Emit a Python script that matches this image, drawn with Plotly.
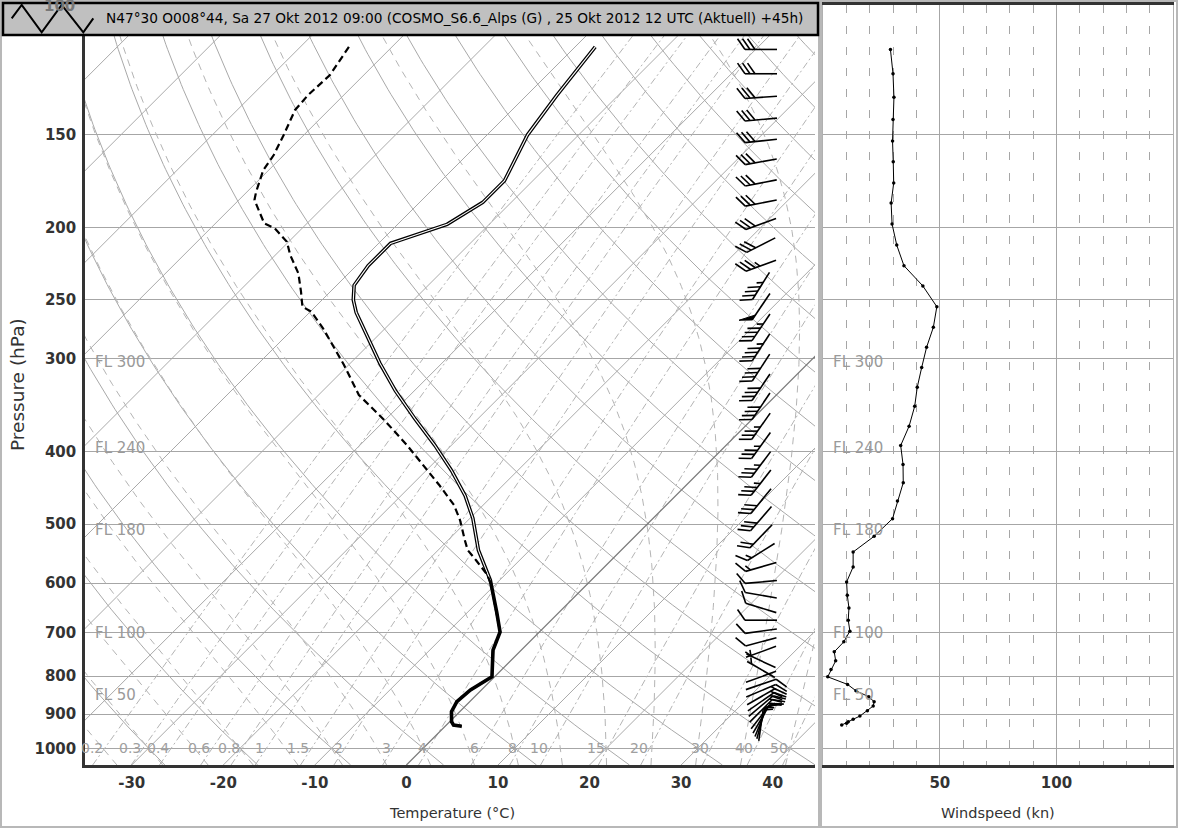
import numpy as np
import plotly.graph_objects as go

# ---------------- data ----------------
TEMP_P = [114.4, 133, 150, 173, 185, 198, 210, 225, 239, 250, 260, 283, 304, 331, 361, 392, 424, 458,
          491, 542, 595, 657, 698, 738, 801.5, 835, 866, 893, 921, 931, 934]
TEMP_C = [-57.8, -56.7, -55.6, -53.1, -53.1, -54.6, -58.7, -58.7, -58.1, -56.6, -54.9, -50.5, -46.8,
          -42.1, -36.9, -31.8, -27.2, -23.0, -19.7, -15.6, -11.0, -6.8, -4.3, -3.1, -0.3, -1.2, -1.4,
          -0.9, 0.2, 0.8, 1.8]

DEW_P = [114.4, 124.8, 132.7, 139.0, 150.2, 159.8, 167.4, 179.1, 183.6, 197.3, 200.4, 206.5, 208.9,
         217.6, 230.3, 243.8, 255.4, 259.3, 273.0, 283.0, 305.8, 335.5, 362.5, 391.6, 416.6, 443.1,
         471.4, 493.8, 525.2, 541.7, 558.8, 585.3, 603.6, 657, 698, 738, 801.5, 835, 866, 893, 921,
         931, 934]
DEW_C = [-84.7, -83.7, -83.9, -83.7, -82.2, -81.1, -80.6, -79.0, -78.3, -74.7, -73.0, -71.0, -70.2,
         -68.4, -65.5, -63.2, -61.4, -59.9, -56.8, -54.8, -50.5, -45.6, -40.1, -34.9, -30.9, -27.0,
         -23.2, -20.9, -18.2, -16.8, -14.8, -11.9, -10.4, -6.8, -4.3, -3.1, -0.3, -1.2, -1.4, -0.9,
         0.2, 0.8, 1.8]

WIND_P = [115.3, 124.3, 133.7, 143.2, 153.0, 163.2, 174.2, 185.4, 197.8, 211.1, 225.0, 239.5, 255.4,
          272.2, 289.5, 308.2, 327.6, 347.4, 369.5, 392.2, 415.8, 440.0, 465.7, 491.7, 519.3, 545.1,
          570.9, 598.0, 623.1, 648.0, 673.0, 696.2, 719.6, 742.2, 763.1, 783.7, 801.8, 820.8, 837.1,
          852.7, 865.9, 877.5, 890.5, 905.1, 914.4, 921.2, 925.7, 930.6]
WIND_KN = [28.8, 29.9, 30.3, 29.9, 29.7, 30.0, 30.2, 29.1, 29.5, 31.5, 34.6, 42.7, 48.7, 47.2, 44.3,
           42.2, 40.3, 39.2, 36.8, 33.2, 34.2, 34.3, 31.8, 29.7, 21.8, 12.8, 12.8, 10.0, 10.3, 11.0,
           10.7, 11.4, 8.8, 4.7, 5.3, 3.3, 1.9, 10.4, 14.0, 19.5, 21.8, 21.4, 18.9, 15.7, 12.8, 10.7,
           10.0, 7.9]
WIND_DIR = [270, 270, 266, 265, 264, 260, 259, 259, 250, 243, 250, 212, 214, 214, 213, 213, 214, 214,
            215, 216, 217, 218, 219, 221, 224, 238, 254, 265, 280, 287, 270, 262, 255, 250, 295, 300,
            70, 71, 67, 60, 55, 50, 45, 38, 30, 22, 15, 8]

P_TICKS = [100, 150, 200, 250, 300, 400, 500, 600, 700, 800, 900, 1000]
T_TICKS = [-30, -20, -10, 0, 10, 20, 30, 40]
WS_TICKS = [50, 100]
MIX_RATIOS = [0.2, 0.3, 0.4, 0.6, 0.8, 1, 1.5, 2, 3, 4, 6, 8, 10, 15, 20, 30, 40, 50]
FL_LABELS = ["FL 300", "FL 240", "FL 180", "FL 100", "FL 50"]
FL_P = [303, 395, 509, 700, 848]
TITLE = "N47°30 O008°44, Sa 27 Okt 2012 09:00 (COSMO_S6.6_Alps (G) , 25 Okt 2012 12 UTC (Aktuell) +45h)"

# ---------------- geometry ----------------
W, H = 1178, 829
ML, MR, MT, MB = 85, 5, 5, 64
PW, PH = W - ML - MR, H - MT - MB          # 1088 x 760
LEFT_W = 730
RIGHT_X0 = 738.3
P_BOT, P_TOP = 1053.0, 100.5
X_MIN, X_MAX = -35.1, 44.62
SX = LEFT_W / (X_MAX - X_MIN)               # px per degC
SY = PH / np.log(P_BOT / P_TOP)             # px per ln(p)
K_SKEW = SY / SX                            # 45 degree isotherms
CORE_P_MAX = 600                            # double-line look above this level


def skew(T, p):
    return np.asarray(T, float) + K_SKEW * np.log(P_BOT / np.asarray(p, float))


def paper(px, py):
    return (px - ML) / PW, (H - MB - py) / PH


GRAY = "#a9a9a9"
fig = go.Figure()

# ---------------- background lines ----------------
p_line = np.geomspace(P_BOT, 90, 160)


def add_family(curves, color, width, dash="solid"):
    xs, ys = [], []
    for T, p in curves:
        xs += list(skew(T, p)) + [None]
        ys += list(p) + [None]
    fig.add_trace(go.Scatter(x=xs, y=ys, mode="lines", hoverinfo="skip", showlegend=False,
                             line=dict(color=color, width=width, dash=dash)))


# isotherms
iso = [(np.full(2, t), np.array([P_BOT, 90])) for t in range(-160, 60, 10) if t != 0]
add_family(iso, GRAY, 1)
# dry adiabats
dry = []
for th in range(-40, 230, 10):
    dry.append(((th + 273.15) * (p_line / 1000.0) ** 0.2857 - 273.15, p_line))
add_family(dry, GRAY, 1)


# moist adiabats
def moist(T0C, ps):
    Rd, cp, Lv, eps = 287.04, 1005.7, 2.501e6, 0.622

    def f(T, p):
        es = 6.112 * np.exp(17.67 * (T - 273.15) / (T - 29.65))
        rs = eps * es / (p - es)
        return (Rd * T + Lv * rs) / (p * (cp + Lv * Lv * rs * eps / (Rd * T * T)))

    T = T0C + 273.15
    out = [T]
    for i in range(1, len(ps)):
        p0, p1 = ps[i - 1], ps[i]
        h = p1 - p0
        k1 = f(T, p0)
        k2 = f(T + h / 2 * k1, p0 + h / 2)
        k3 = f(T + h / 2 * k2, p0 + h / 2)
        k4 = f(T + h * k3, p1)
        T += h / 6 * (k1 + 2 * k2 + 2 * k3 + k4)
        out.append(T)
    return np.array(out) - 273.15


p_up = np.geomspace(1000, 90, 200)
p_dn = np.linspace(1000, P_BOT, 6)
wet = []
for t0 in range(-40, 50, 5):
    Tu = moist(t0, p_up)
    Td_ = moist(t0, p_dn)
    wet.append((np.concatenate([Td_[::-1], Tu[1:]]), np.concatenate([p_dn[::-1], p_up[1:]])))
add_family(wet, "#b4b4b4", 1, "7px,6px")


# mixing ratio lines
def td_from_w(w, p):
    wk = w / 1000.0
    e = wk * p / (0.622 + wk)
    a = np.log(e / 6.112)
    return 243.5 * a / (17.67 - a)


mix = [(td_from_w(w, p_line), p_line) for w in MIX_RATIOS]
add_family(mix, "#b4b4b4", 1, "7px,3px,2px,3px")

# 0 degC isotherm (darker)
fig.add_trace(go.Scatter(x=skew([0, 0], [P_BOT, 90]), y=[P_BOT, 90], mode="lines", hoverinfo="skip",
                         showlegend=False, line=dict(color="#7a7a7a", width=1.3)))

# ---------------- profiles ----------------
tp = np.array(TEMP_P)
tc = np.array(TEMP_C)
fig.add_trace(go.Scatter(x=skew(tc, tp), y=tp, mode="lines", showlegend=False,
                         line=dict(color="black", width=3.6)))
core = tp <= CORE_P_MAX
fig.add_trace(go.Scatter(x=skew(tc[core], tp[core]), y=tp[core], mode="lines", showlegend=False,
                         line=dict(color="white", width=1.1)))
fig.add_trace(go.Scatter(x=skew(DEW_C, DEW_P), y=DEW_P, mode="lines", showlegend=False,
                         line=dict(color="black", width=2.2, dash="7px,4px")))

# ---------------- wind barbs ----------------
BARB_CX = X_MIN + (761 - ML) / SX


def barb(spd, d):
    L, flen, fsp, ang = 32.0, 13.0, 5.0, np.radians(55)
    r = np.radians(d)
    u = np.array([np.sin(r), -np.cos(r)])
    head, tail = u * L / 2, -u * L / 2
    fv = np.array([np.cos(ang) * u[0] - np.sin(ang) * u[1], np.sin(ang) * u[0] + np.cos(ang) * u[1]])
    s = int(5 * round(spd / 5.0))
    n50, rem = divmod(s, 50)
    n10, rem = divmod(rem, 10)
    n5 = rem // 5
    lines, tris = [[tail, head]], []
    pos = 0.0
    for _ in range(n50):
        a = head - u * pos
        b = head - u * (pos + 6)
        tris.append([a, a + fv * flen, b, a])
        pos += 8
    for _ in range(n10):
        a = head - u * pos
        lines.append([a, a + fv * flen])
        pos += fsp
    if n5:
        if n50 == 0 and n10 == 0:
            pos = fsp
        a = head - u * pos
        lines.append([a, a + fv * flen * 0.5])
    return lines, tris


bx, by, tx, ty = [], [], [], []
for p, s, d in zip(WIND_P, WIND_KN, WIND_DIR):
    lines, tris = barb(s, d)
    for seg in lines:
        for pt in seg:
            bx.append(BARB_CX + pt[0] / SX)
            by.append(p * np.exp(pt[1] / SY))
        bx.append(None)
        by.append(None)
    for tri in tris:
        for pt in tri:
            tx.append(BARB_CX + pt[0] / SX)
            ty.append(p * np.exp(pt[1] / SY))
        tx.append(None)
        ty.append(None)
fig.add_trace(go.Scatter(x=bx, y=by, mode="lines", showlegend=False, hoverinfo="skip",
                         line=dict(color="black", width=1.6)))
if tx:
    fig.add_trace(go.Scatter(x=tx, y=ty, mode="lines", fill="toself", fillcolor="black", showlegend=False,
                             hoverinfo="skip", line=dict(color="black", width=1)))

# ---------------- wind speed panel ----------------
fig.add_trace(go.Scatter(x=WIND_KN, y=WIND_P, xaxis="x2", yaxis="y2", mode="lines+markers",
                         showlegend=False, line=dict(color="black", width=1),
                         marker=dict(color="black", size=3.5)))

# ---------------- layout ----------------
AX_FONT = dict(family="DejaVu Sans", size=15, color="#333333", weight="bold")
yrange = [np.log10(P_BOT), np.log10(P_TOP)]
fig.update_layout(
    width=W, height=H, margin=dict(l=ML, r=MR, t=MT, b=MB, autoexpand=False),
    paper_bgcolor="white", plot_bgcolor="white", showlegend=False,
    xaxis=dict(domain=[0, LEFT_W / PW], range=[X_MIN, X_MAX], tickvals=T_TICKS,
               ticktext=[str(t) for t in T_TICKS], showgrid=False, zeroline=False, showline=True,
               linecolor="#333333", linewidth=2.5, ticks="", ticklabelstandoff=2, tickfont=AX_FONT,
               anchor="y", mirror=True, automargin=False),
    yaxis=dict(type="log", range=yrange, tickvals=P_TICKS[1:], ticktext=[str(p) for p in P_TICKS[1:]],
               showgrid=True, gridcolor="#a6a6a6", gridwidth=1.3, zeroline=False, showline=True,
               linecolor="#333333", linewidth=2.5, ticks="", ticklabelstandoff=3, tickfont=AX_FONT,
               anchor="x", automargin=False),
    xaxis2=dict(domain=[RIGHT_X0 / PW, 1], range=[0, 150], tickvals=WS_TICKS,
                ticktext=[str(t) for t in WS_TICKS], showgrid=True, gridcolor="#a6a6a6", gridwidth=1.3,
                minor=dict(tickmode="linear", tick0=0, dtick=10, showgrid=True, gridcolor="#a6a6a6",
                           griddash="8px,13px", gridwidth=1),
                zeroline=False, showline=True, linecolor="#333333", linewidth=2.5, mirror=True,
                ticks="", ticklabelstandoff=2, tickfont=AX_FONT, anchor="y2", automargin=False),
    yaxis2=dict(type="log", range=yrange, tickvals=P_TICKS[1:], showticklabels=False, showgrid=True,
                gridcolor="#a6a6a6", gridwidth=1.3, zeroline=False, showline=True, mirror=True,
                linecolor="#b0b0b0", linewidth=1, ticks="", anchor="x2", automargin=False),
)

shapes = []
# outer panel frames
for (x0, x1) in [(1, 819), (821, 1177)]:
    a0, b0 = paper(x0, 827)
    a1, b1 = paper(x1, 1)
    shapes.append(dict(type="rect", xref="paper", yref="paper", x0=a0, x1=a1, y0=b0, y1=b1,
                       line=dict(color="#b8b8b8", width=2), fillcolor="rgba(0,0,0,0)", layer="below"))
# header box
a0, b0 = paper(3, 35)
a1, b1 = paper(818, 3)
shapes.append(dict(type="rect", xref="paper", yref="paper", x0=a0, x1=a1, y0=b0, y1=b1,
                   line=dict(color="black", width=2.5), fillcolor="#c0c0c0", layer="above"))
zig = [(11.7, 18.3), (21.7, 5), (41.7, 32.3), (61.7, 5), (83.3, 32.3), (93.3, 18.3)]
path = "M " + " L ".join("%.5f,%.5f" % paper(x, y) for x, y in zig)
shapes.append(dict(type="path", xref="paper", yref="paper", path=path,
                   line=dict(color="black", width=2), layer="above"))
fig.update_layout(shapes=shapes)

ann = []
hx, hy = paper(104, 18)
ann.append(dict(text=TITLE, xref="paper", yref="paper", x=hx, y=hy, xanchor="left", yanchor="middle",
                showarrow=False, font=dict(family="DejaVu Sans", size=13.7, color="black")))
tx0, ty0 = paper(77, 6)
ann.append(dict(text=str(P_TICKS[0]), xref="paper", yref="paper", x=tx0, y=ty0, xanchor="right",
                yanchor="middle", showarrow=False, font=dict(family="DejaVu Sans", size=15, color="#777777",
                                                             weight="bold")))
# axis titles
ax, ay = paper(17, 385)
ann.append(dict(text="Pressure (hPa)", xref="paper", yref="paper", x=ax, y=ay, textangle=-90,
                xanchor="center", yanchor="middle",
                showarrow=False, font=dict(family="DejaVu Sans", size=18.5, color="#333333")))
ax, ay = paper(452, 813)
ann.append(dict(text="Temperature (°C)", xref="paper", yref="paper", x=ax, y=ay, showarrow=False,
                xanchor="center", yanchor="middle",
                font=dict(family="DejaVu Sans", size=14.5, color="#333333")))
ax, ay = paper(998, 813)
ann.append(dict(text="Windspeed (kn)", xref="paper", yref="paper", x=ax, y=ay, showarrow=False,
                xanchor="center", yanchor="middle",
                font=dict(family="DejaVu Sans", size=14.5, color="#333333")))
# flight levels
for lab, p in zip(FL_LABELS, FL_P):
    for px in (93, 831):
        ann.append(dict(text=lab, xref="paper", yref="y", x=paper(px, 0)[0], y=np.log10(p), xanchor="left",
                        yanchor="middle", showarrow=False,
                        font=dict(family="DejaVu Sans", size=15, color="#9a9a9a")))
# mixing ratio labels
for w in MIX_RATIOS:
    xw = float(skew(td_from_w(w, 1000.0), 1000.0))
    ann.append(dict(text=("%g" % w), xref="x", yref="y", x=xw, y=3.0, xanchor="right", yanchor="middle",
                    showarrow=False, font=dict(family="DejaVu Sans", size=14, color="#a0a0a0")))
fig.update_layout(annotations=ann)

fig.write_html("out.html", config={"displayModeBar": False},
               post_script="document.body.style.margin='0px';document.body.style.overflow='hidden';"
                           "document.documentElement.style.overflow='hidden';")
